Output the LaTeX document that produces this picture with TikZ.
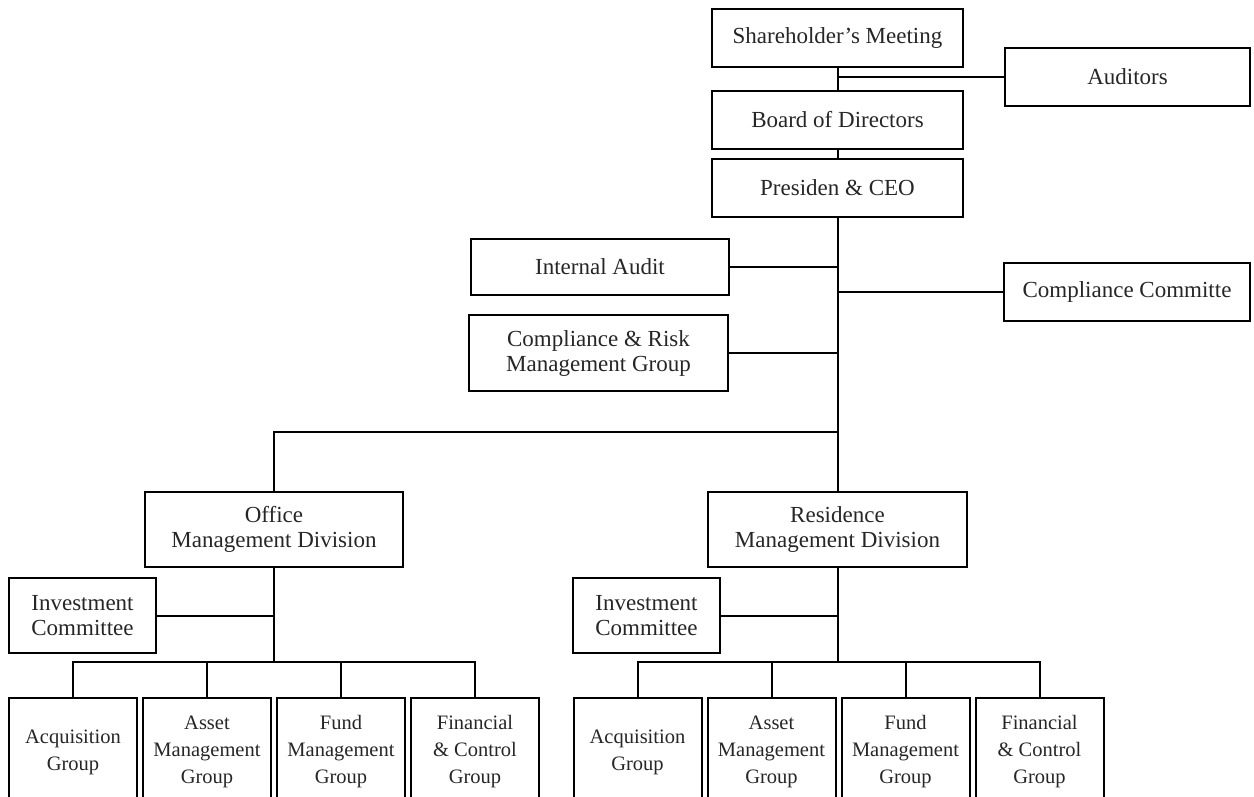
\documentclass[tikz,border=0pt]{standalone}
\usepackage{fontspec}
\setmainfont{Liberation Serif}
\begin{document}
\begin{tikzpicture}[x=1pt,y=-1pt,
  box/.style={draw=black, line width=2pt, rectangle, align=center, inner sep=0pt,
    font=\fontsize{23}{25}\selectfont, text=black!85},
  grp/.style={box, font=\fontsize{20.5}{27}\selectfont, minimum width=128pt, minimum height=108pt},
  link/.style={draw=black, line width=2pt}]
\useasboundingbox (0,0) rectangle (1254,796);
% top chain
\node[box, minimum width=251pt, minimum height=58pt] (sh) at (837.5,38) {Shareholder's Meeting};
\node[box, minimum width=245pt, minimum height=58pt] (aud) at (1127.5,77) {Auditors};
\node[box, minimum width=251pt, minimum height=58pt] (bod) at (837.5,120) {Board of Directors};
\node[box, minimum width=251pt, minimum height=58pt] (ceo) at (837.5,188) {Presiden \& CEO};
% staff
\node[box, minimum width=258pt, minimum height=56pt] (ia) at (600,267) {Internal Audit};
\node[box, minimum width=246pt, minimum height=58pt] (cc) at (1127,292) {Compliance Committe};
\node[box, minimum width=259pt, minimum height=76pt] (crm) at (598.5,353) {Compliance \& Risk\\Management Group};
% divisions
\node[box, minimum width=258pt, minimum height=75pt] (omd) at (274,529.5) {Office\\Management Division};
\node[box, minimum width=259pt, minimum height=75pt] (rmd) at (837.5,529.5) {Residence\\Management Division};
\node[box, minimum width=147pt, minimum height=75pt] (ic1) at (82.5,615.5) {Investment\\Committee};
\node[box, minimum width=147pt, minimum height=75pt] (ic2) at (646.5,615.5) {Investment\\Committee};
% groups
\foreach \n/\x/\t in {a1/73/{Acquisition\\Group}, a2/207/{Asset\\Management\\Group}, a3/341/{Fund\\Management\\Group}, a4/475/{Financial\\\& Control\\Group},
  b1/637.5/{Acquisition\\Group}, b2/771.5/{Asset\\Management\\Group}, b3/905.5/{Fund\\Management\\Group}, b4/1039.5/{Financial\\\& Control\\Group}}
  \node[grp] (\n) at (\x,752) {\t};
% junctions
\coordinate (j1) at (837.5,432);
\coordinate (j2) at (274,662);
\coordinate (j3) at (837.5,662);
% connectors
\draw[link] (sh.south) -- (bod.north);
\draw[link] (sh.south |- aud.west) -- (aud.west);
\draw[link] (bod.south) -- (ceo.north);
\draw[link] (ceo.south) -- (rmd.north);
\draw[link] (ia.east) -- (ia.east -| ceo.south);
\draw[link] (cc.west) -- (cc.west -| ceo.south);
\draw[link] (crm.east) -- (crm.east -| ceo.south);
\draw[link] (omd.north) |- (j1);
\draw[link] (omd.south) -- (j2);
\draw[link] (ic1.east) -- (ic1.east -| omd.south);
\draw[link] (a1.north) |- (j2) -| (a4.north);
\draw[link] (a2.north) -- (a2.north |- j2);
\draw[link] (a3.north) -- (a3.north |- j2);
\draw[link] (rmd.south) -- (j3);
\draw[link] (ic2.east) -- (ic2.east -| rmd.south);
\draw[link] (b1.north) |- (j3) -| (b4.north);
\draw[link] (b2.north) -- (b2.north |- j3);
\draw[link] (b3.north) -- (b3.north |- j3);
\end{tikzpicture}
\end{document}
